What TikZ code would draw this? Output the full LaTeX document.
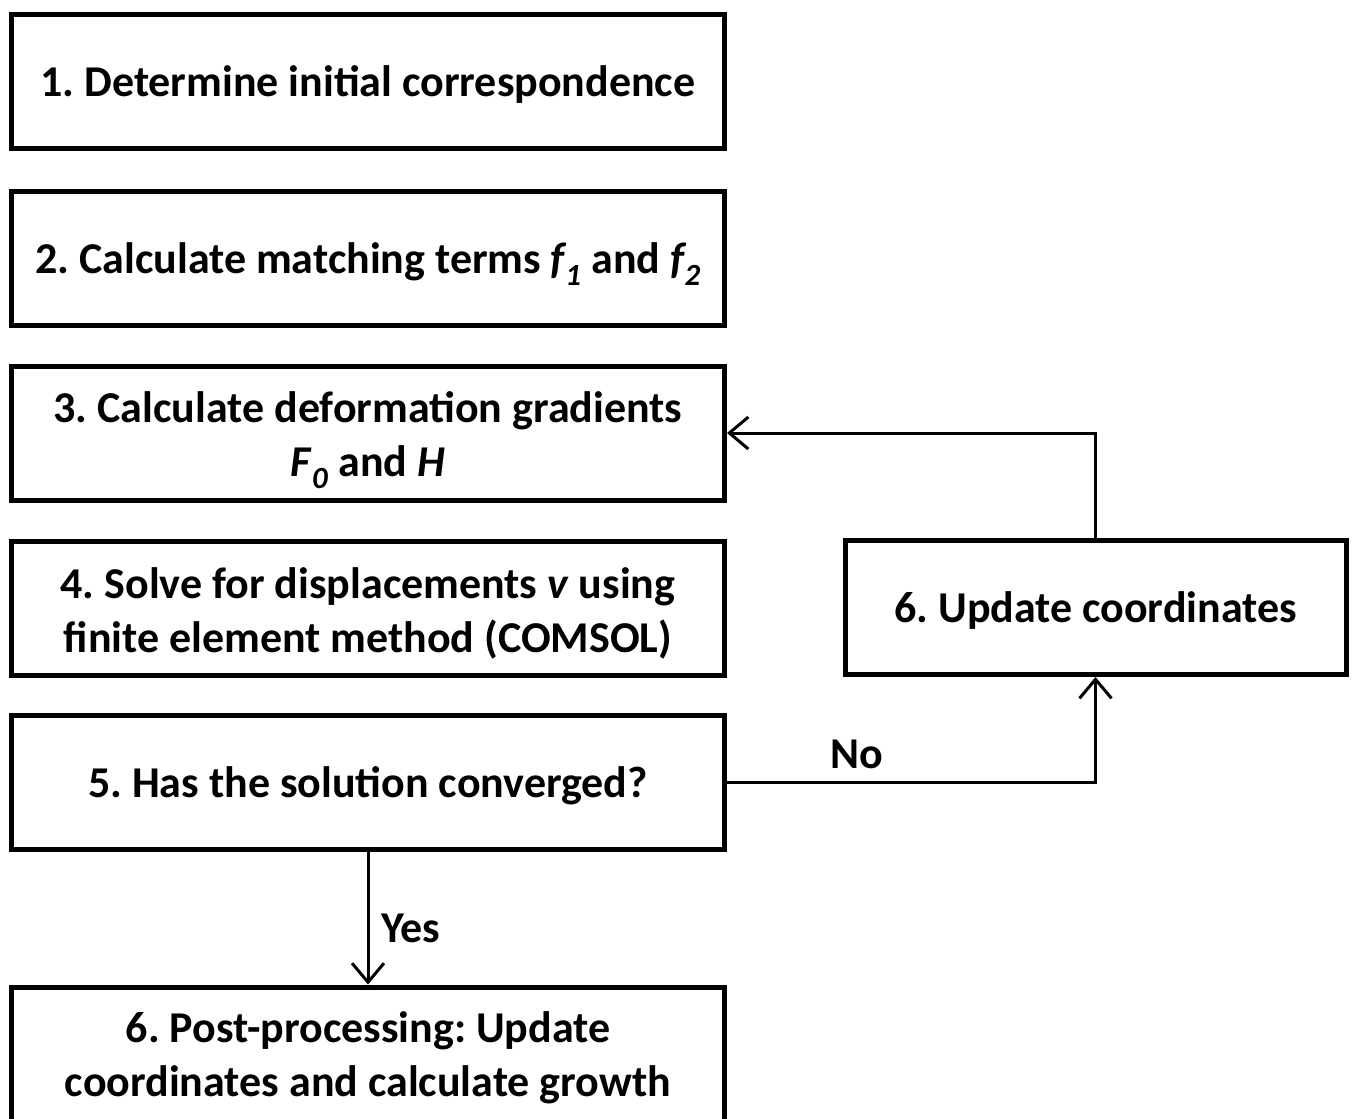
\documentclass[tikz,border=0pt]{standalone}
\usepackage{fontspec}
\setmainfont{Carlito}
\usetikzlibrary{arrows.meta}
\frenchspacing
\begin{document}
\begin{tikzpicture}[x=1pt,y=-1pt,
  box/.style={draw, line width=5pt, rectangle, minimum width=713pt, minimum height=134pt, inner sep=0pt, align=center, font=\fontsize{44}{54}\selectfont\bfseries},
  conn/.style={line width=3pt, -{Straight Barb[length=19pt,width=32pt,line width=3pt]}},
  lbl/.style={font=\fontsize{44}{54}\selectfont\bfseries, inner sep=0pt}]
\useasboundingbox (0,0) rectangle (1352,1119);
\clip (0,0) rectangle (1352,1119);
\node[box] (b1) at (368,81) {};
\node[lbl] (t1) at (368,84) {1. Determine initial correspondence};
\node[box] (b2) at (368,258) {};
\node[lbl] (t2) at (368,264) {2. Calculate matching terms \textit{f}\kern-2pt\textsubscript{\textit{1}} and \textit{f}\kern-2pt\textsubscript{\textit{2}}};
\node[box] (b3) at (368,433) {};
\node[lbl, align=center] (t3) at (368,440) {3. Calculate deformation gradients\\\textit{F}\textsubscript{\textit{0}} and \textit{H}};
\node[box] (b4) at (368,608) {};
\node[lbl, align=center] (t4) at (368,613) {4. Solve for displacements \textit{v} using\\finite element method (COMSOL)};
\node[box] (b5) at (368,782.5) {};
\node[lbl] (t5) at (368,786) {5. Has the solution converged?};
\node[box, minimum height=160pt, anchor=north] (b6) at (368,984.5) {};
\node[lbl, align=center] (b6t) at (368,1058) {6. Post-processing: Update\\coordinates and calculate growth};
\node[box, minimum width=501pt] (upd) at (1095.5,607.5) {};
\node[lbl] (tu) at (1095.5,611) {6. Update coordinates};
\draw[conn] (upd.north) |- (b3.east);
\draw[conn] (b5.east) -| (upd.south);
\draw[conn] (b5.south) -- (b6.north);
\node[lbl] (no) at (857,754) {No};
\node[lbl] (yes) at (411,928) {Yes};
\end{tikzpicture}
\end{document}
